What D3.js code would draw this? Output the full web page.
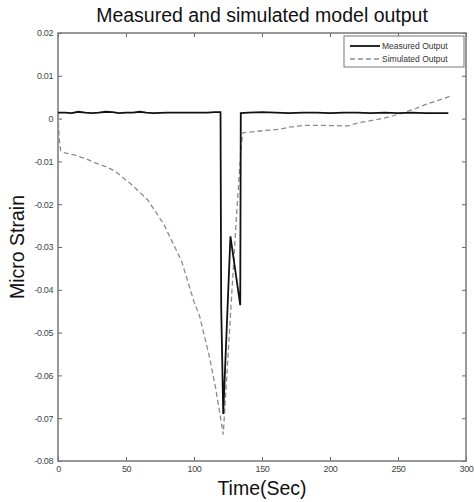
<!DOCTYPE html>
<html lang="en">
<head>
    <meta charset="UTF-8">
    <title>Measured and simulated model output</title>
    <script src="https://d3js.org/d3.v7.min.js"></script>
    <style>
        body { margin: 0; background: #fff; }
        svg { font-family: "Liberation Sans", Arial, sans-serif; }
    </style>
</head>
<body>
    <div id="chart"></div>
    <script>
        // Data
        const xTicks = [0, 50, 100, 150, 200, 250, 300];
        const yTicks = [0.02, 0.01, 0, -0.01, -0.02, -0.03, -0.04, -0.05, -0.06, -0.07, -0.08];

        const measuredTime = [0, 5, 10, 15, 20, 25, 30, 35, 40, 45, 50, 55, 60, 65, 70, 80, 90, 100, 110, 115, 119.5,
            120, 121.5, 126.8, 134, 134.4, 140, 150, 160, 170, 180, 190, 200, 210, 220, 230, 240, 250, 260, 270, 280, 287];
        const measuredValue = [0.0014, 0.0014, 0.0013, 0.0016, 0.0014, 0.0013, 0.0014, 0.0016, 0.0015, 0.0013, 0.0014, 0.0014,
            0.0016, 0.0014, 0.0013, 0.0014, 0.0014, 0.0014, 0.0014, 0.0015, 0.0015,
            -0.044, -0.069, -0.0275, -0.0436, 0.0013, 0.0014, 0.0015, 0.0014, 0.0013, 0.0014, 0.0014, 0.0013, 0.0014,
            0.0014, 0.0013, 0.0014, 0.0013, 0.0014, 0.0013, 0.0013, 0.0013];

        const simulatedTime = [0, 0.5, 1, 2, 5, 12, 20, 27, 35, 42, 54, 66, 78, 91, 100, 104, 111, 116, 121.5,
            131, 134.8, 136, 145, 155, 163, 170, 180, 195, 213, 222, 235, 245, 254, 262, 271, 280, 288];
        const simulatedValue = [0.001, -0.002, -0.005, -0.0075, -0.008, -0.0085, -0.0093, -0.0103, -0.0112, -0.0123,
            -0.0154, -0.019, -0.0248, -0.0334, -0.0428, -0.046, -0.0552, -0.0631, -0.0738,
            -0.024, -0.006, -0.0033, -0.003, -0.0027, -0.0025, -0.002, -0.0016, -0.0016, -0.0017, -0.0009,
            -0.0002, 0.0005, 0.0014, 0.0022, 0.0034, 0.0043, 0.0052];

        const width = 474;
        const height = 502;
        const margin = { top: 33, right: 8, bottom: 41, left: 58 };

        const svg = d3.select("#chart")
            .append("svg")
            .attr("width", width)
            .attr("height", height);

        const x = d3.scaleLinear().domain([0, 300]).range([margin.left, width - margin.right]);
        const y = d3.scaleLinear().domain([-0.08, 0.02]).range([height - margin.bottom, margin.top]);

        const fmt = d => d === 0 ? "0" : d.toFixed(2);

        // Axes with inward ticks on all four sides
        const axisStyle = g => {
            g.select(".domain").remove();
            g.selectAll("line").attr("stroke", "#666");
            g.selectAll("text").attr("fill", "#444").attr("font-size", 9).attr("letter-spacing", -0.4);
        };

        svg.append("g")
            .attr("transform", `translate(0,${y(-0.08)})`)
            .call(d3.axisBottom(x).tickValues(xTicks).tickSize(-4).tickPadding(5).tickFormat(d3.format("d")))
            .call(axisStyle);

        svg.append("g")
            .attr("transform", `translate(0,${y(0.02)})`)
            .call(d3.axisTop(x).tickValues(xTicks).tickSize(-4).tickFormat(""))
            .call(axisStyle);

        svg.append("g")
            .attr("transform", `translate(${x(0)},0)`)
            .call(d3.axisLeft(y).tickValues(yTicks).tickSize(-4).tickPadding(5).tickFormat(fmt))
            .call(axisStyle);

        svg.append("g")
            .attr("transform", `translate(${x(300)},0)`)
            .call(d3.axisRight(y).tickValues(yTicks).tickSize(-4).tickFormat(""))
            .call(axisStyle);

        // Plot frame
        svg.append("rect")
            .attr("x", x(0))
            .attr("y", y(0.02))
            .attr("width", x(300) - x(0))
            .attr("height", y(-0.08) - y(0.02))
            .attr("fill", "none")
            .attr("stroke", "#777")
            .attr("stroke-width", 1.5);

        const line = d3.line().x(d => x(d[0])).y(d => y(d[1]));

        // Simulated output (dashed gray)
        svg.append("path")
            .datum(simulatedTime.map((t, i) => [t, simulatedValue[i]]))
            .attr("d", line)
            .attr("fill", "none")
            .attr("stroke", "#8c8c8c")
            .attr("stroke-width", 1.3)
            .attr("stroke-dasharray", "5,3");

        // Measured output (solid black)
        svg.append("path")
            .datum(measuredTime.map((t, i) => [t, measuredValue[i]]))
            .attr("d", line)
            .attr("fill", "none")
            .attr("stroke", "#111")
            .attr("stroke-width", 1.8);

        // Legend
        const legend = svg.append("g").attr("transform", "translate(344,36)");
        legend.append("rect")
            .attr("width", 120)
            .attr("height", 31)
            .attr("fill", "#fff")
            .attr("stroke", "#777")
            .attr("stroke-width", 1);
        const items = [
            { label: "Measured Output", color: "#111", dash: null, w: 1.8 },
            { label: "Simulated Output", color: "#8c8c8c", dash: "5,3", w: 1.3 }
        ];
        items.forEach((d, i) => {
            const yy = 10 + i * 13;
            legend.append("line")
                .attr("x1", 6).attr("x2", 36)
                .attr("y1", yy).attr("y2", yy)
                .attr("stroke", d.color)
                .attr("stroke-width", d.w)
                .attr("stroke-dasharray", d.dash);
            legend.append("text")
                .attr("x", 38)
                .attr("y", yy + 3)
                .attr("font-size", 8.5)
                .attr("fill", "#333")
                .text(d.label);
        });

        // Title and axis labels
        svg.append("text")
            .attr("x", (x(0) + x(300)) / 2)
            .attr("y", 22)
            .attr("text-anchor", "middle")
            .attr("font-size", 19.5)
            .attr("fill", "#111")
            .text("Measured and simulated model output");

        svg.append("text")
            .attr("x", (x(0) + x(300)) / 2)
            .attr("y", 495)
            .attr("text-anchor", "middle")
            .attr("font-size", 19.5)
            .attr("fill", "#111")
            .text("Time(Sec)");

        svg.append("text")
            .attr("transform", `translate(24,${(y(0.02) + y(-0.08)) / 2}) rotate(-90)`)
            .attr("text-anchor", "middle")
            .attr("font-size", 19.5)
            .attr("fill", "#111")
            .text("Micro Strain");
    </script>
</body>
</html>
